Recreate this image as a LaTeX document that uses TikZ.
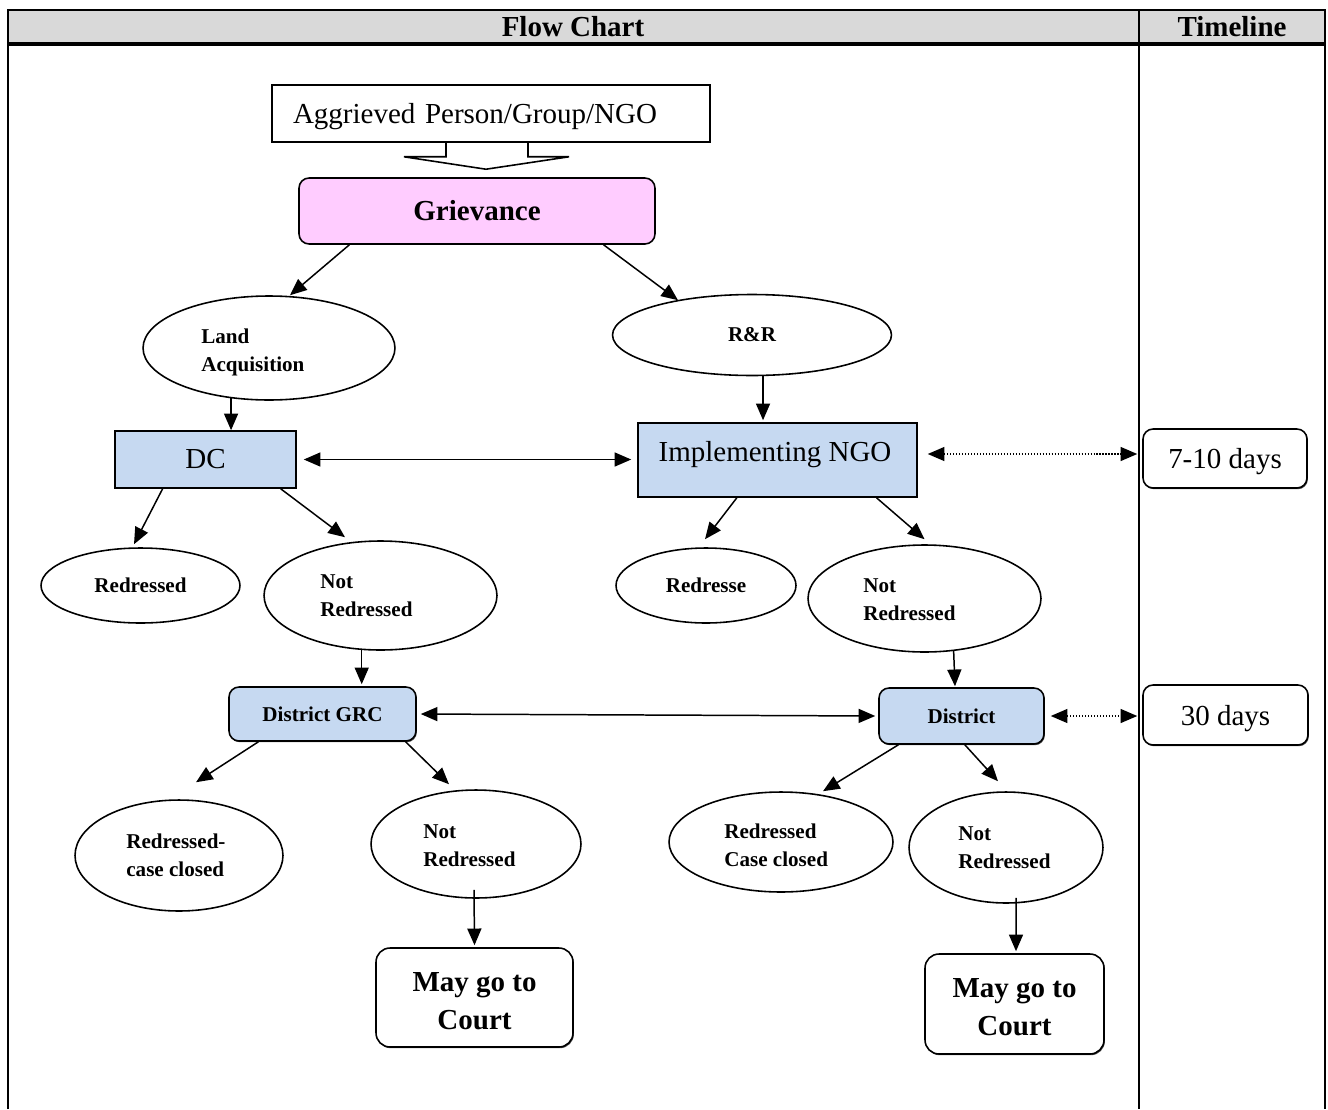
\documentclass[tikz,border=0pt]{standalone}
\usepackage{fontspec}
\setmainfont{Liberation Serif}
\usetikzlibrary{arrows.meta,shapes.geometric,calc,shadows}
\definecolor{pinkfill}{HTML}{FFCCFF}
\definecolor{bluefill}{HTML}{C6D9F1}
\definecolor{headgray}{HTML}{D9D9D9}
\begin{document}
\begin{tikzpicture}[x=0.02cm,y=-0.02cm,
 lw/.style={line width=0.9pt},
 small/.style={font=\fontsize{12}{16}\selectfont\bfseries},
 big/.style={font=\fontsize{16.5}{21.6}\selectfont},
 bigb/.style={font=\fontsize{16.5}{21.6}\selectfont\bfseries},
 ell/.style={draw, ellipse, line width=0.9pt, inner sep=0pt, fill=white},
 txt/.style={small, align=left, inner sep=0pt, anchor=west},
 sq/.style={draw, rectangle, line width=0.9pt, inner sep=0pt},
 rbox/.style={draw, rectangle, rounded corners=0.2cm, line width=0.9pt, inner sep=0pt, fill=white,
   drop shadow={shadow xshift=0.5pt, shadow yshift=-0.7pt, fill=black, opacity=0.7}},
 tip/.tip={Triangle[length=9.5pt,width=8pt]},
 arr/.style={-tip, line width=0.85pt},
 darr/.style={tip-tip, line width=0.85pt},
 dotarr/.style={tip-tip, line width=0.7pt, densely dotted},
]
\useasboundingbox (0,0) rectangle (1328,1109);
% table frame
\fill[headgray] (8,10) rectangle (1325,44);
\draw[line width=1.1pt] (8,1109) -- (8,10) -- (1325,10) -- (1325,1109);
\draw[line width=2.2pt] (8,44) -- (1325,44);
\draw[line width=1.1pt] (1139,10) -- (1139,1109);
\node[bigb] (hflow) at (573,27) {Flow Chart};
\node[bigb] (htime) at (1232,27) {Timeline};

% nodes
\node[sq, minimum width=8.76cm, minimum height=1.14cm, text width=7.92cm, inner xsep=0.42cm, align=left, big, text depth=0pt] (agg) at (491,113.5) {Aggrieved Person/Group/NGO};
\node[draw, rectangle, rounded corners=0.2cm, fill=pinkfill, line width=0.9pt, inner sep=0pt, minimum width=7.12cm, minimum height=1.32cm, bigb] (griev) at (477,211) {Grievance};

\node[ell, minimum width=5.04cm, minimum height=2.08cm] (la) at (269,348) {};
\node[txt] (la-t) at (201,352) {Land\\Acquisition};
\node[ell, minimum width=5.58cm, minimum height=1.62cm, small] (rr) at (752,335) {R\&R};

\node[sq, fill=bluefill, minimum width=3.62cm, minimum height=1.14cm, big] (dc) at (205.5,459.5) {DC};
\node[sq, fill=bluefill, minimum width=5.58cm, minimum height=1.48cm] (ngo) at (777.5,460) {};
\node[big, inner sep=0pt] (ngo-t) at (775,455) {Implementing NGO};
\node[rbox, minimum width=3.28cm, minimum height=1.18cm, big, text depth=0pt] (t1) at (1225,458.5) {7-10 days};

\node[ell, minimum width=3.98cm, minimum height=1.5cm, small] (red1) at (140.5,585.5) {Redressed};
\node[ell, minimum width=4.66cm, minimum height=2.18cm] (nr1) at (380.5,595.5) {};
\node[txt] (nr1-t) at (320,595.5) {Not\\Redressed};
\node[ell, minimum width=3.6cm, minimum height=1.5cm, small] (red2) at (706,585.5) {Redresse};
\node[ell, minimum width=4.66cm, minimum height=2.14cm] (nr2) at (924.5,598.5) {};
\node[txt] (nr2-t) at (863,600) {Not\\Redressed};

\node[rbox, fill=bluefill, minimum width=3.74cm, minimum height=1.08cm, small] (grc) at (322.5,714) {District GRC};
\node[rbox, fill=bluefill, minimum width=3.3cm, minimum height=1.12cm, small] (dist) at (961.5,716) {District};
\node[rbox, minimum width=3.3cm, minimum height=1.2cm, big, text depth=0pt] (t2) at (1225.5,715) {30 days};

\node[ell, minimum width=4.16cm, minimum height=2.22cm] (rc1) at (179,855.5) {};
\node[txt] (rc1-t) at (126,855) {Redressed-\\case closed};
\node[ell, minimum width=4.2cm, minimum height=2.16cm] (nr3) at (476,844) {};
\node[txt] (nr3-t) at (423,845.5) {Not\\Redressed};
\node[ell, minimum width=4.48cm, minimum height=2cm] (rc2) at (781,842) {};
\node[txt] (rc2-t) at (724,845.5) {Redressed\\Case closed};
\node[ell, minimum width=3.88cm, minimum height=2.22cm] (nr4) at (1006,847.5) {};
\node[txt] (nr4-t) at (958,847.5) {Not\\Redressed};

\node[rbox, rounded corners=0.28cm, minimum width=3.94cm, minimum height=1.98cm,
  label={[bigb, align=center, inner sep=0pt, yshift=-0.07cm]center:May go to\\Court}] (c1) at (474.5,997.5) {};
\node[rbox, rounded corners=0.28cm, minimum width=3.58cm, minimum height=2cm,
  label={[bigb, align=center, inner sep=0pt, yshift=-0.07cm]center:May go to\\Court}] (c2) at (1014.5,1004) {};

% block arrow from aggrieved box to grievance
\draw[lw] ($(agg.south)+(-45,0)$) -- ++(0,14) -- ++(-42,0) -- ($(griev.north)+(9,-8)$)
  -- ($(agg.south)+(78,14)$) -- ++(-41,0) -- ++(0,-14);

% connectors
\draw[arr] ($(griev.south west)!0.143!(griev.south east)$) -- ($(la.north)+(21,0)$);
\draw[arr] ($(griev.south west)!0.854!(griev.south east)$) -- ($(rr.north)+(-74,6.5)$);
\draw[arr] (la.233) -- (la.233 |- dc.north);
\draw[arr] (rr.285) -- ($(rr.285 |- ngo.north)+(0,-2)$);
\draw[darr, shorten <=0.14cm, shorten >=0.12cm] (dc.east) -- (dc.east -| ngo.west);
\coordinate (d1) at ([yshift=0.12cm]ngo.east);
\draw[dotarr, shorten <=0.2cm, shorten >=0.1cm] (d1) -- (d1 -| t1.west);

\draw[arr] ($(dc.south west)!0.265!(dc.south east)$) -- ($(red1.north)+(-6.5,-3)$);
\draw[arr] ($(dc.south west)!0.912!(dc.south east)$) -- ($(nr1.north)+(-35.5,-3)$);
\draw[arr] ($(ngo.south west)!0.355!(ngo.south east)$) -- ($(red2.north)+(-1,-8)$);
\draw[arr] ($(ngo.south west)!0.853!(ngo.south east)$) -- ($(nr2.north)+(0,-5)$);

\draw[arr] (nr1.251) -- ($(nr1.251 |- grc.north)+(0,-2)$);
\draw[arr] (nr2.299) -- ($(dist.north)+(-6.5,-1)$);
\draw[darr, shorten <=0.08cm, shorten >=0.06cm] (grc.east) -- (dist.west);
\draw[dotarr, shorten <=0.12cm, shorten >=0.1cm] (dist.east) -- (dist.east -| t2.west);

\draw[arr] ($(grc.south west)!0.16!(grc.south east)$) -- ($(rc1.north)+(17,-17)$);
\draw[arr] ($(grc.south west)!0.941!(grc.south east)$) -- ($(nr3.north)+(-27,-5)$);
\draw[arr] ($(dist.south west)!0.121!(dist.south east)$) -- ($(rc2.north)+(42,0)$);
\draw[arr] ($(dist.south west)!0.52!(dist.south east)$) -- ($(nr4.north)+(-8,-10)$);

\draw[arr] ($(nr3.south)+(-2,-9)$) -- ($(c1.north)+(0,-2)$);
\draw[arr] ($(nr4.south)+(10,-6)$) -- ($(c2.north)+(1.5,-2)$);
\end{tikzpicture}
\end{document}
